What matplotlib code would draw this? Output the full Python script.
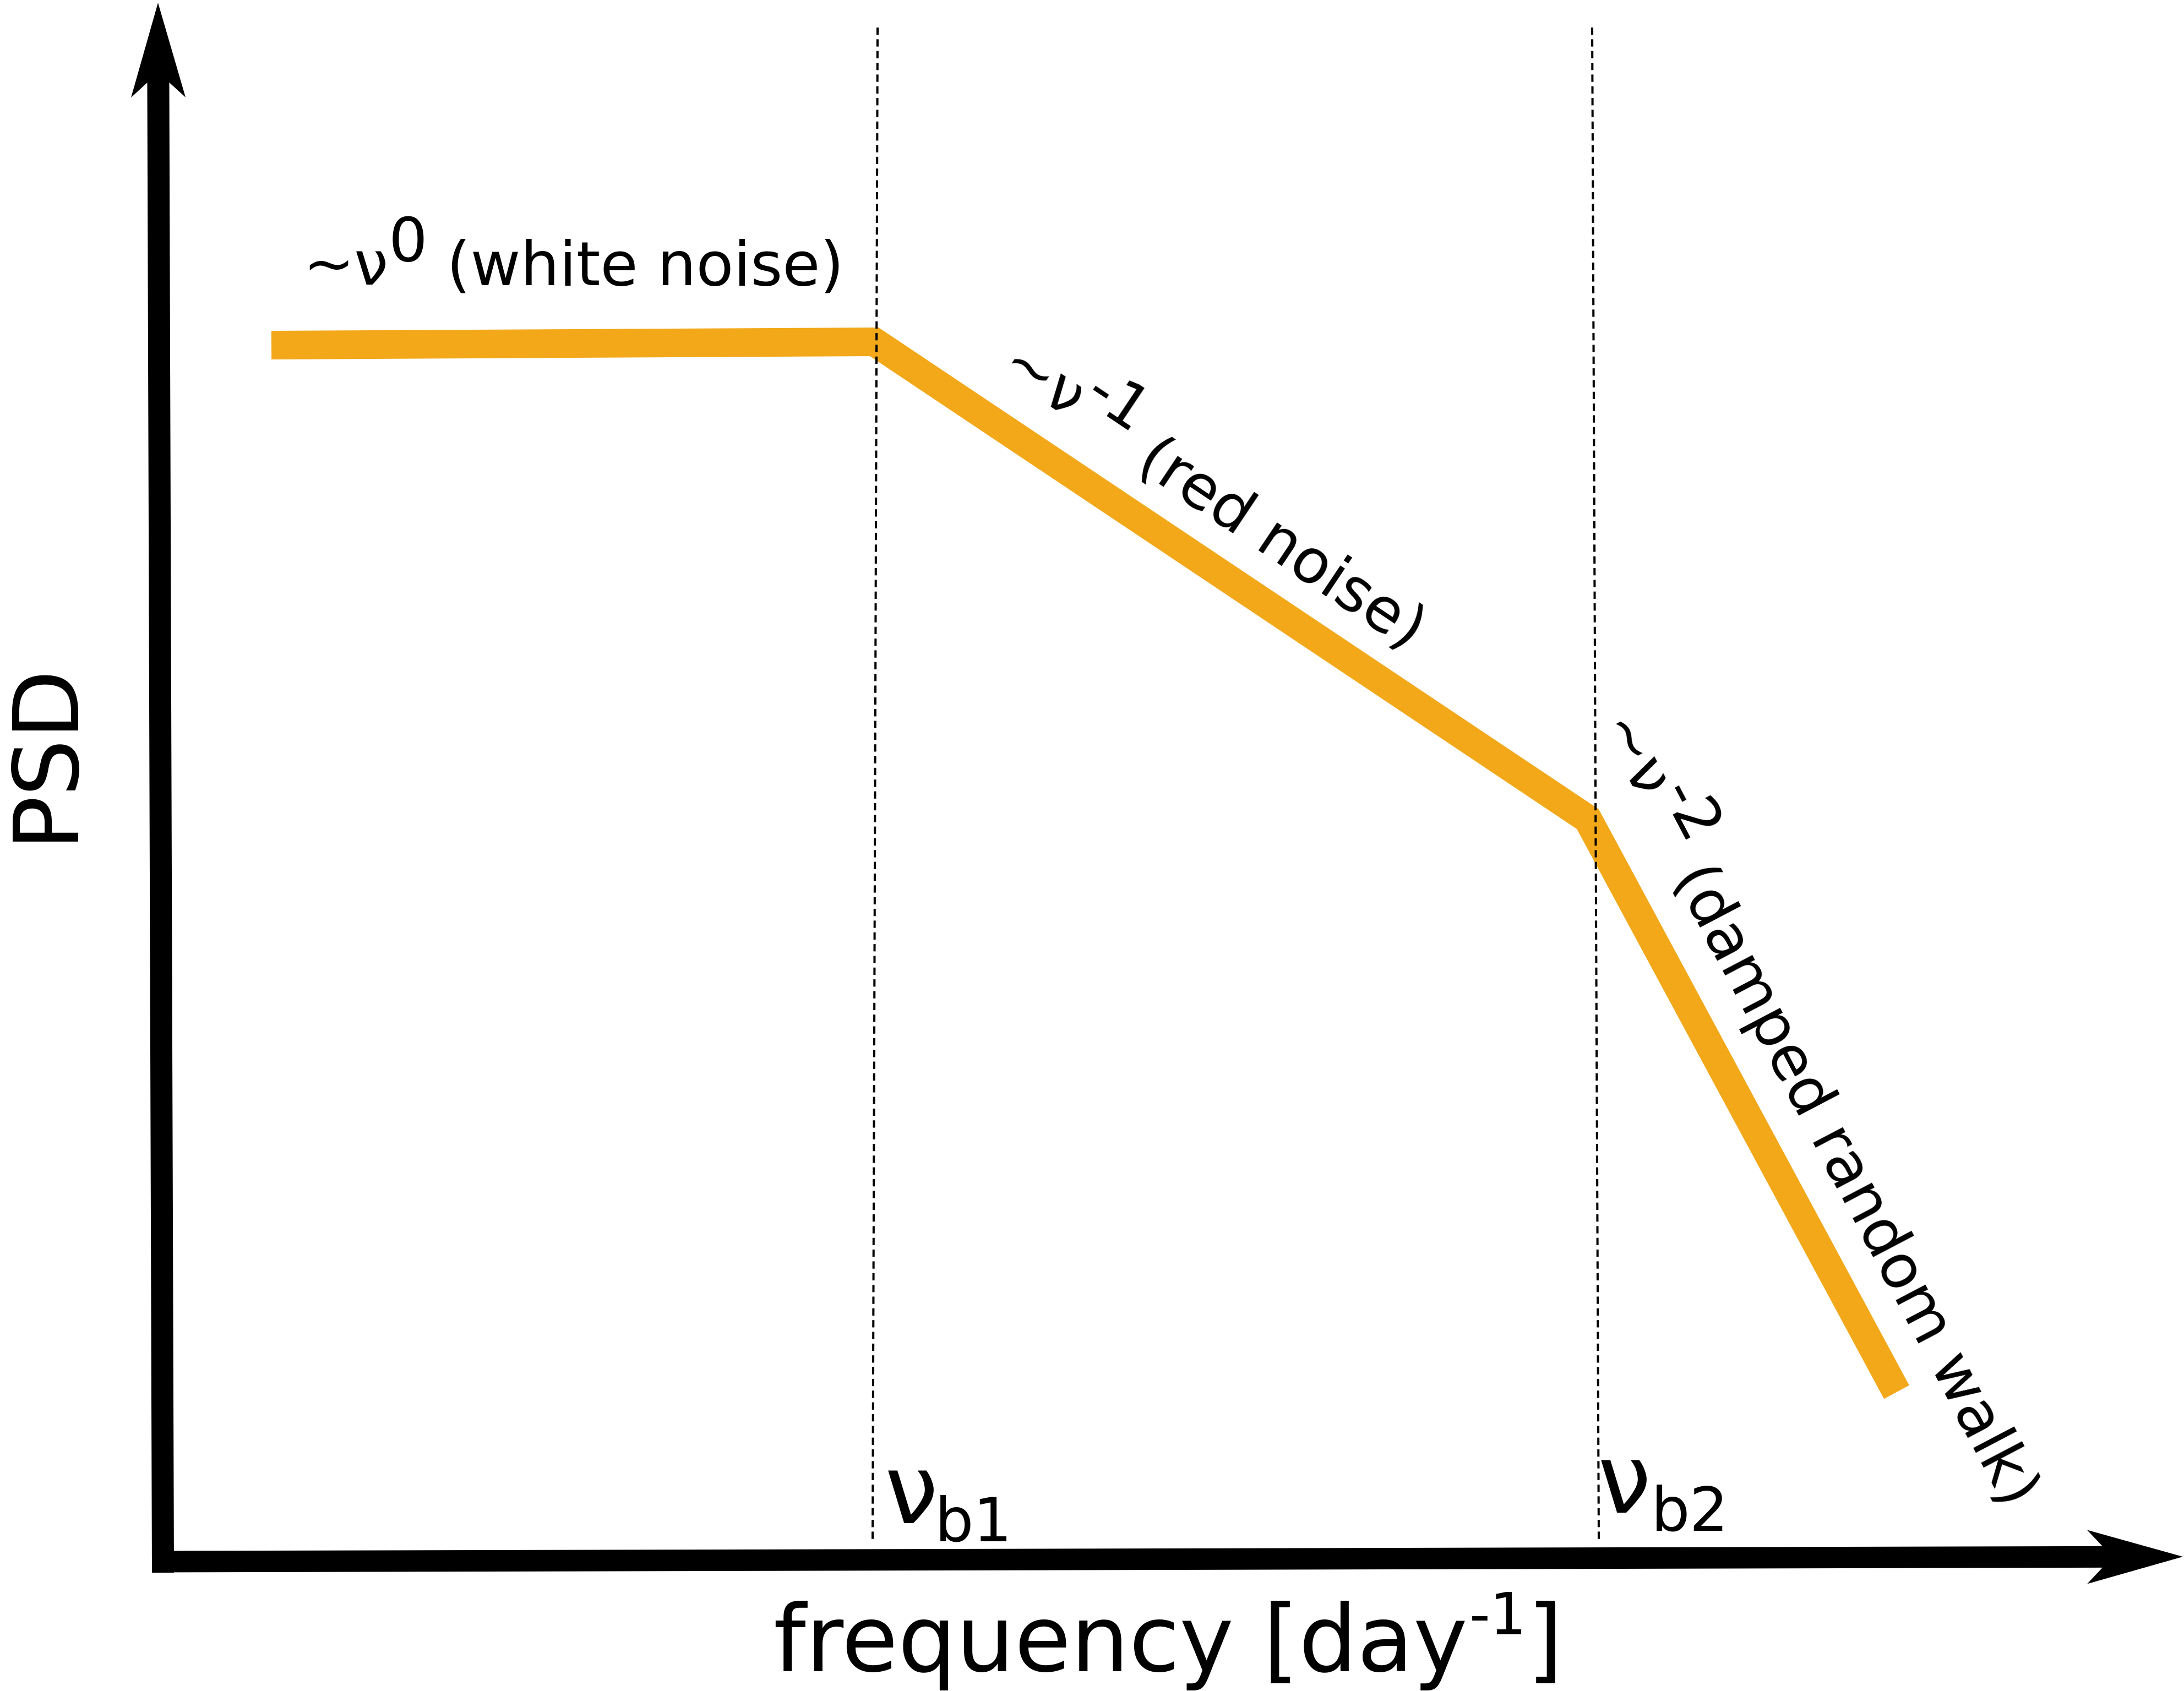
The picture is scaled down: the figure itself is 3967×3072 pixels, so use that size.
import numpy as np
import matplotlib
matplotlib.use("Agg")
import matplotlib.pyplot as plt
from matplotlib.patches import FancyArrow
from matplotlib.ft2font import FT2Font
from matplotlib import font_manager

DPI = 100
W, H = 3967, 3072

# ---- schematic data (axis units: origin at the axes corner) ----
freq_pts = [2.01, 12.96, 25.92, 31.53]      # frequency positions of the PSD vertices
psd_pts = [22.06, 22.12, 13.45, 3.04]       # PSD level at those vertices
break_top_x = [13.02, 26.00]                # break frequencies (top of dashed guides)
break_bot_x = [12.93, 26.12]                # break frequencies (bottom of dashed guides)
break_top_y = 27.83
break_bot_y = 0.33
slope_labels = [
    [("~ν", 1.0, 0.0), ("0", 1.0, 0.39), (" (white noise)", 1.0, 0.0)],
    [("~ν", 1.0, 0.0), ("-1", 1.0, 0.42), (" (red noise)", 1.0, 0.0)],
    [("~ν", 1.0, 0.0), ("-2", 1.0, 0.42), (" (damped random walk)", 1.0, 0.0)],
]
slope_label_pos = [(2.58, 23.16), (15.18, 21.52), (26.07, 15.07)]
slope_label_rot = [0.0, -33.8, -62.3]
break_names = ["b1", "b2"]
break_nu_pos = [(13.15, 0.66), (26.10, 0.85)]
break_sub_pos = [(14.06, 0.33), (27.07, 0.52)]
xlabel_pieces = [("frequency [day", 1.0, 0.0), ("-1", 0.63, 0.40), ("]", 1.0, 0.0)]
xlabel_pos = (11.13, -2.03)
ylabel_text = "PSD"
ylabel_pos = (-1.65, 14.69)

ORANGE = "#F2A819"
FAMILY = "DejaVu Sans"

fig = plt.figure(figsize=(W / DPI, H / DPI), dpi=DPI)
x0, y0 = 292, 239
ax = fig.add_axes([x0 / W, y0 / H, (W - x0) / W, (H - y0) / H])
ax.set_xlim(0, (W - x0) / 100)
ax.set_ylim(0, (H - y0) / 100)
ax.axis("off")

_fp = font_manager.FontProperties(family=FAMILY)
_font_file = font_manager.findfont(_fp)


def advance(s, size):
    f = FT2Font(_font_file)
    f.set_size(size, DPI)
    tot = 0.0
    for c in s:
        g = f.load_char(ord(c))
        tot += g.linearHoriAdvance / 65536.0
    return tot


def rich(x, y, pieces, base, rot):
    th = np.deg2rad(rot)
    a = 0.0
    for s, sc, rise in pieces:
        size = base * sc
        r = rise * base * DPI / 72.0
        dx = a * np.cos(th) - r * np.sin(th)
        dy = a * np.sin(th) + r * np.cos(th)
        ax.annotate(s, xy=(x, y), xycoords="data",
                    xytext=(dx * 72.0 / DPI, dy * 72.0 / DPI), textcoords="offset points",
                    fontsize=size, family=FAMILY, rotation=rot, rotation_mode="anchor",
                    ha="left", va="baseline", annotation_clip=False, color="black")
        a += advance(s, size)


# PSD broken power law
ax.plot(freq_pts, psd_pts, color=ORANGE, lw=52 * 72 / DPI,
        solid_joinstyle="miter", solid_capstyle="butt", zorder=2)

# dashed break-frequency guides
for xt, xb in zip(break_top_x, break_bot_x):
    ax.plot([xt, xb], [break_top_y, break_bot_y], color="black", lw=2.9,
            ls=(0, (3.3, 2.0)), zorder=3)

# axes arrows
ax.add_patch(FancyArrow(0.04, -0.24, -0.09, 28.52, width=0.40, head_width=0.99,
                        head_length=1.72, overhang=0.157, length_includes_head=True,
                        color="black", lw=0, clip_on=False, zorder=4))
ax.add_patch(FancyArrow(-0.16, -0.04, 36.89, 0.09, width=0.39, head_width=0.98,
                        head_length=1.74, overhang=0.16, length_includes_head=True,
                        color="black", lw=0, clip_on=False, zorder=4))

# slope labels
for pieces, (px, py), rot in zip(slope_labels, slope_label_pos, slope_label_rot):
    rich(px, py, pieces, 80, rot)

# break frequency labels
for name, (nx, ny), (sx, sy) in zip(break_names, break_nu_pos, break_sub_pos):
    ax.text(nx, ny, "ν", fontsize=125, family=FAMILY, ha="left", va="baseline")
    ax.text(sx, sy, name, fontsize=80, family=FAMILY, ha="left", va="baseline")

# axis labels
rich(xlabel_pos[0], xlabel_pos[1], xlabel_pieces, 120, 0.0)
ax.text(ylabel_pos[0], ylabel_pos[1], ylabel_text, fontsize=118, family=FAMILY,
        rotation=90, rotation_mode="anchor", ha="center", va="baseline")

fig.savefig("out.png", dpi=DPI, facecolor="white")
